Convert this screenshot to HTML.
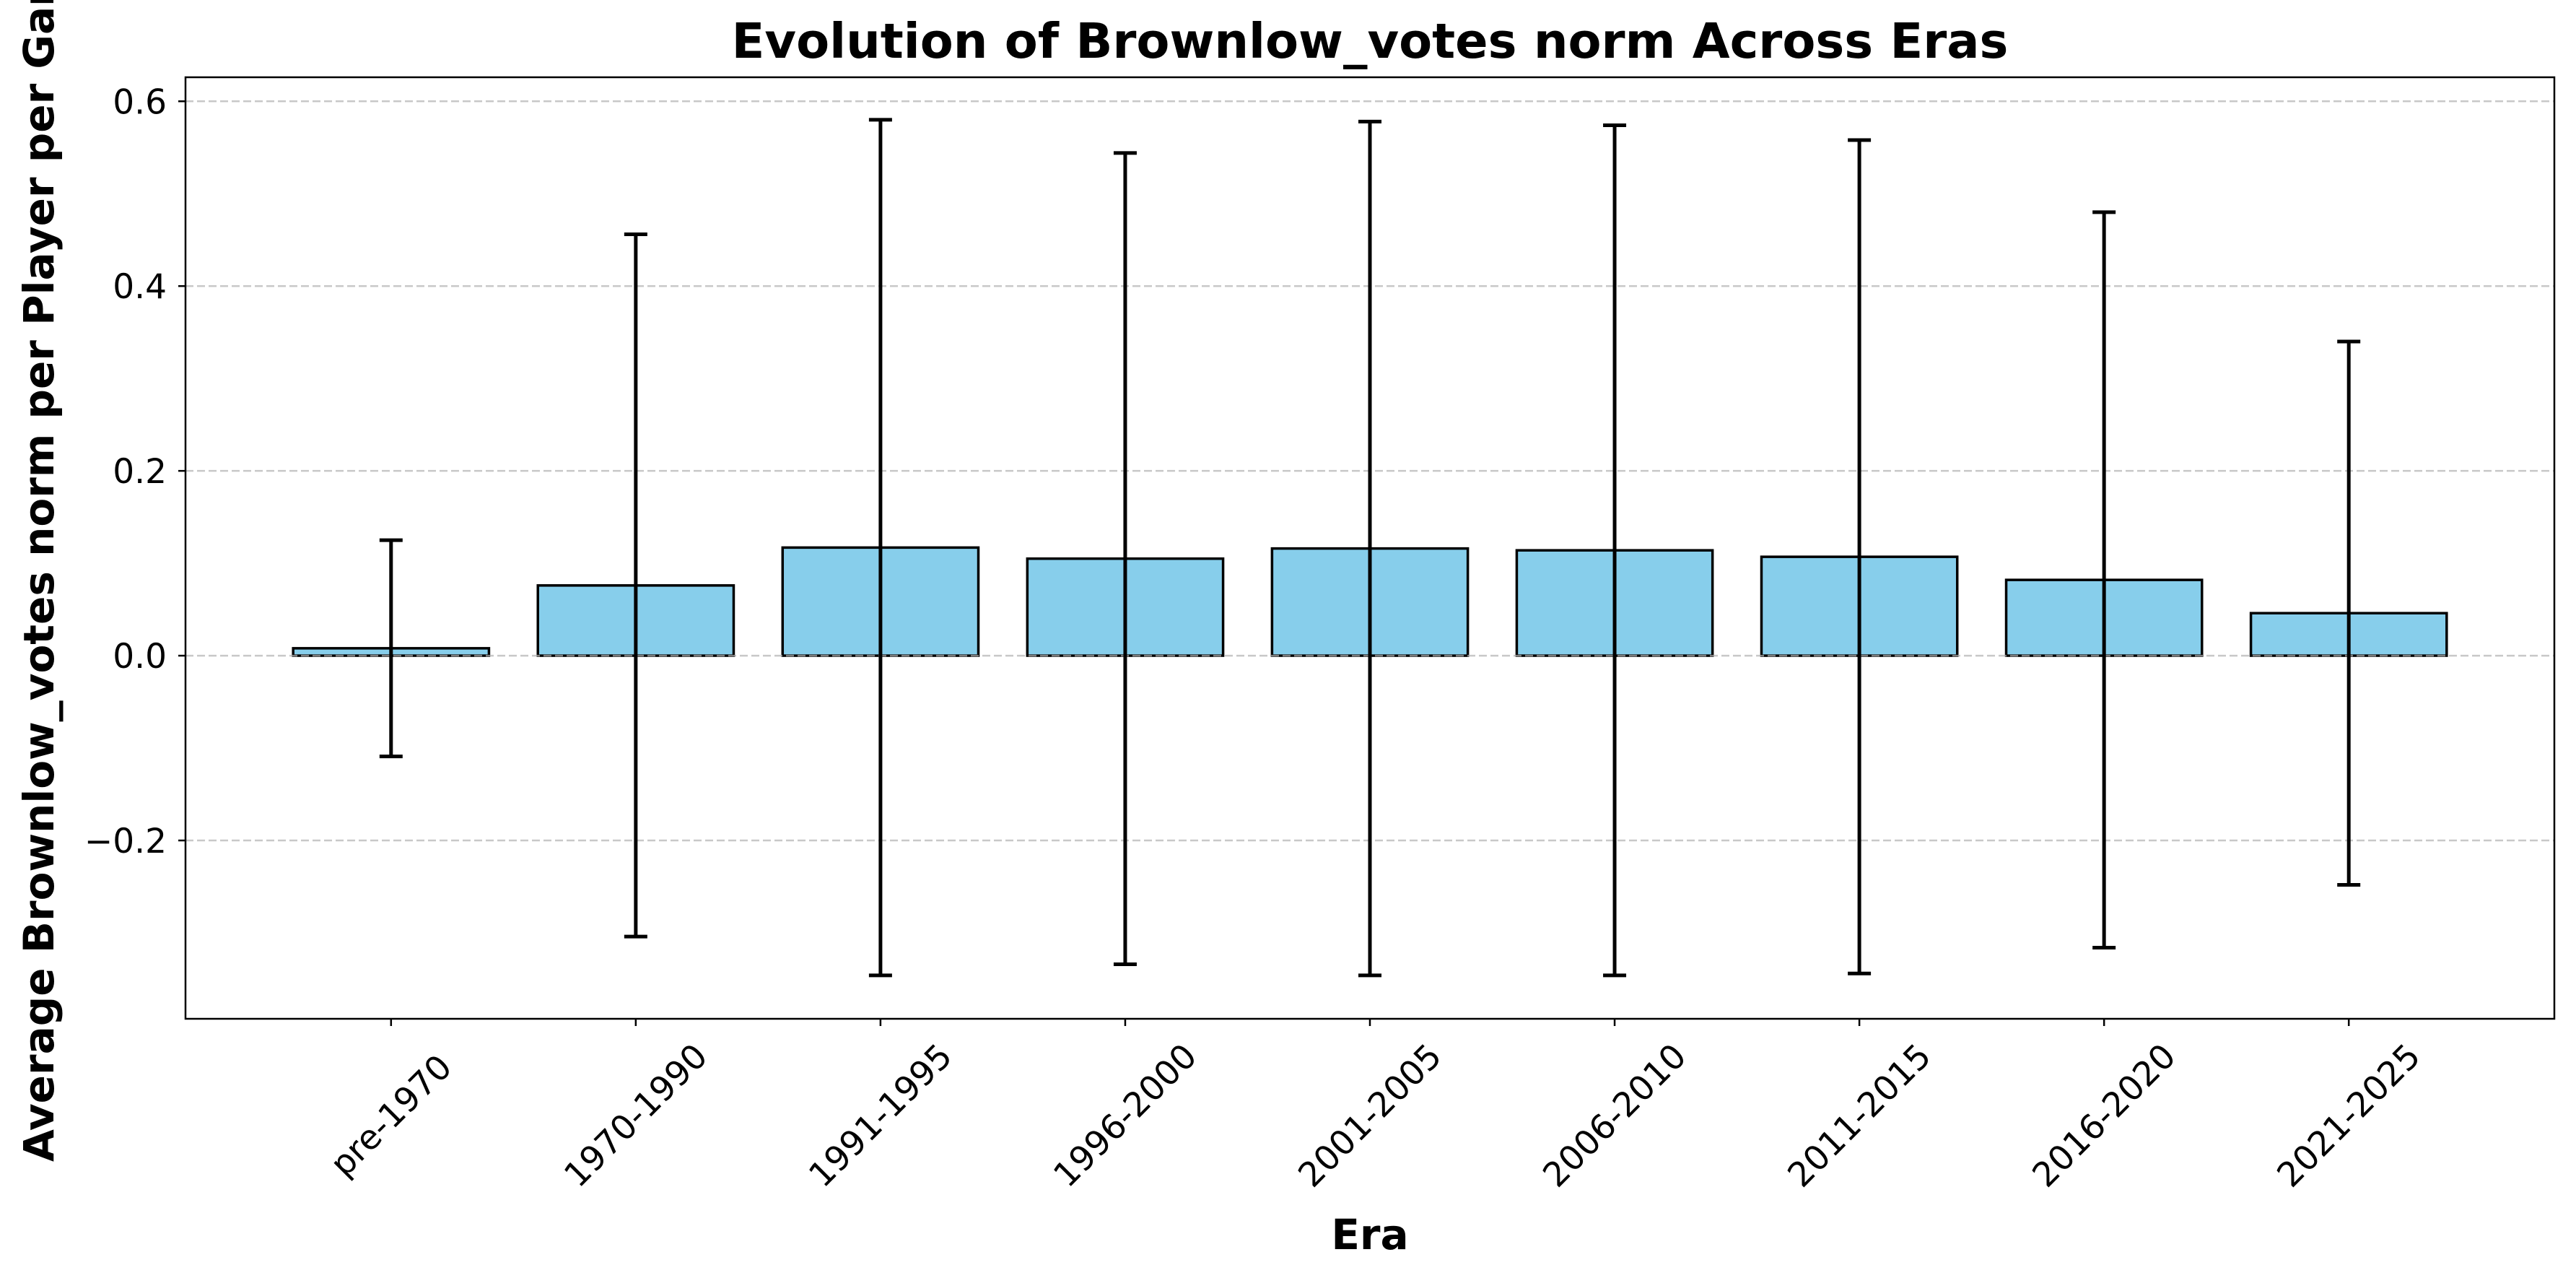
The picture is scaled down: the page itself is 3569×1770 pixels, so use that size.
<!DOCTYPE html>
<html><head><meta charset="utf-8"><style>
html,body{margin:0;padding:0;background:#fff;}
svg{display:block;font-family:"DejaVu Sans","Liberation Sans",sans-serif;}
</style></head><body>
<svg id="chart" width="3569" height="1770" viewBox="0 0 3569 1770" xmlns="http://www.w3.org/2000/svg">
<rect width="3569" height="1770" fill="#fff"/>
<text x="1898" y="80" text-anchor="middle" font-size="67" font-weight="bold">Evolution of Brownlow_votes norm Across Eras</text>
<text transform="translate(74,759) rotate(-90)" text-anchor="middle" font-size="58" font-weight="bold">Average Brownlow_votes norm per Player per Game</text>
<text x="1898" y="1730" text-anchor="middle" font-size="58" font-weight="bold">Era</text>
<g id="bars"></g>
<g id="grid"></g>
<g id="errs"></g>
<g id="ticks"></g>
<rect x="257" y="107" width="3282" height="1304" fill="none" stroke="#000" stroke-width="2.5"/>
</svg>
<script>
const categories = ["pre-1970","1970-1990","1991-1995","1996-2000","2001-2005","2006-2010","2011-2015","2016-2020","2021-2025"];
const means = [0.008,0.076,0.117,0.105,0.116,0.114,0.107,0.082,0.046];
const stds = [0.117,0.380,0.463,0.439,0.462,0.460,0.451,0.398,0.294];
const yTicks = [-0.2,0.0,0.2,0.4,0.6];
const yTickLabels = ["\u22120.2","0.0","0.2","0.4","0.6"];

const NS="http://www.w3.org/2000/svg";
const L=257,R=3539,T=107,B=1411;
const xMin=-0.84,xMax=8.84,yMin=-0.393,yMax=0.626;
const xs=v=>L+(v-xMin)/(xMax-xMin)*(R-L);
const ys=v=>B-(v-yMin)/(yMax-yMin)*(B-T);
function mk(tag,attrs,parent){const e=document.createElementNS(NS,tag);for(const k in attrs)e.setAttribute(k,attrs[k]);document.getElementById(parent).appendChild(e);return e;}

categories.forEach((c,i)=>{
  const x0=xs(i-0.4),x1=xs(i+0.4),y0=ys(0),y1=ys(means[i]);
  const b=mk('rect',{x:x0,y:Math.min(y0,y1),width:x1-x0,height:Math.abs(y0-y1),fill:'#87ceeb',stroke:'#000','stroke-width':3.5},'bars');
  
  
  const cx=xs(i),yt=ys(means[i]+stds[i]),yb=ys(means[i]-stds[i]);
  const g=mk('g',{stroke:'#000','stroke-width':5},'errs');
  
  
  [[cx,yt,cx,yb],[cx-16,yt,cx+16,yt],[cx-16,yb,cx+16,yb]].forEach(p=>{
    const l=document.createElementNS(NS,'line');
    l.setAttribute('x1',p[0]);l.setAttribute('y1',p[1]);l.setAttribute('x2',p[2]);l.setAttribute('y2',p[3]);
    g.appendChild(l);
  });
  const tk=mk('line',{x1:cx,y1:B,x2:cx,y2:B+10,stroke:'#000','stroke-width':2.5},'ticks');
  
  
  const cy=1545;
  const t=mk('text',{x:cx,y:cy+16,'text-anchor':'middle','font-size':47,transform:`rotate(-45 ${cx} ${cy})`},'ticks');
  t.textContent=c;
  
  
});
yTicks.forEach((v,i)=>{
  const y=ys(v);
  const gl=mk('line',{x1:L,y1:y,x2:R,y2:y,stroke:'#b0b0b0','stroke-opacity':0.7,'stroke-width':2.5,'stroke-dasharray':'11,5'},'grid');
  
  
  const tk=mk('line',{x1:L-10,y1:y,x2:L,y2:y,stroke:'#000','stroke-width':2.5},'ticks');
  
  
  const t=mk('text',{x:L-26,y:y+17,'text-anchor':'end','font-size':47},'ticks');
  t.textContent=yTickLabels[i];
  
  
});
</script>
</body></html>
